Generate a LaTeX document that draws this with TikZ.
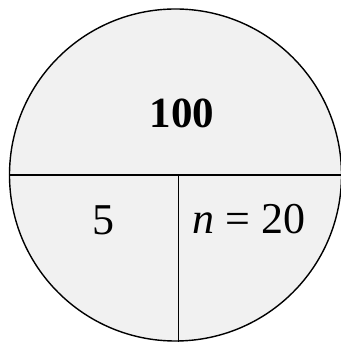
\documentclass[tikz,border=0pt]{standalone}
\usepackage{fontspec}
\setmainfont{Liberation Serif}
\usetikzlibrary{calc}
\begin{document}
\begin{tikzpicture}[x=1pt,y=1pt,
  ring/.style={circle,draw=black,line width=1.4pt,fill=gray!11,minimum size=332pt,inner sep=0pt},
  divider/.style={draw=black,line width=1.4pt},
  lbl/.style={anchor=base,inner sep=0pt,font=\fontsize{44}{50}\selectfont}]
\useasboundingbox (0,0) rectangle (340,344);
\node[ring] (c) at (175.5,169) {};
\draw[divider] (c.west) -- (c.east);
\coordinate (vt) at ($(c.center)+(3,0)$);
\coordinate (vb) at ($(c.south)+(3,0)$);
\draw[divider] (vt) -- (vb);
\node[lbl,font=\fontsize{43}{50}\selectfont\bfseries] (t) at (182,216) {100};
\node[lbl] (l) at (103,109) {5};
\node[lbl] (r) at (249,110) {{\itshape n} = 20};
\end{tikzpicture}
\end{document}
